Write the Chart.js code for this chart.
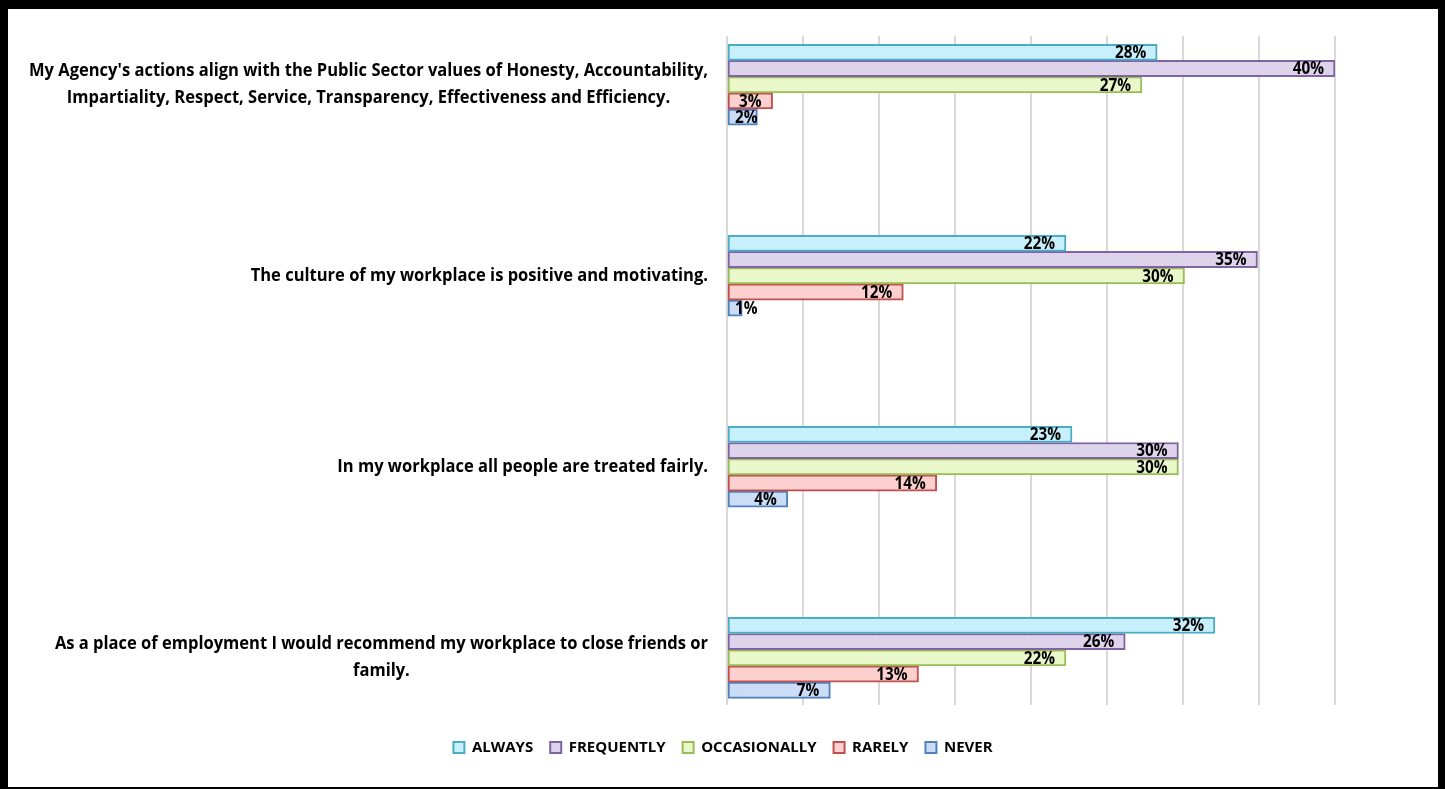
<!DOCTYPE html>
<html>
<head>
<meta charset="utf-8">
<script src="https://cdn.jsdelivr.net/npm/chart.js@4"></script>
<style>
  html, body { margin: 0; padding: 0; background: #fff; }
  #frame {
    box-sizing: border-box;
    width: 1445px; height: 789px;
    border-style: solid; border-color: #000;
    border-width: 9px 7px 2px 8px;
    position: relative;
  }
  #wrap { position: absolute; left: 0; top: 0; width: 1430px; height: 778px; }
</style>
</head>
<body>
<div id="frame"><div id="wrap"><canvas id="chart"></canvas></div></div>
<script>
// categories (multi-line labels)
const categories = [
  ["My Agency's actions align with the Public Sector values of Honesty, Accountability,",
   "Impartiality, Respect, Service, Transparency, Effectiveness and Efficiency."],
  ["The culture of my workplace is positive and motivating."],
  ["In my workplace all people are treated fairly."],
  ["As a place of employment I would recommend my workplace to close friends or", "family."]
];
const seriesNames = ['ALWAYS', 'FREQUENTLY', 'OCCASIONALLY', 'RARELY', 'NEVER'];

// percentages
const always       = [28.3, 22.3, 22.7, 32.1];
const frequently   = [40.0, 34.9, 29.7, 26.2];
const occasionally = [27.3, 30.1, 29.7, 22.3];
const rarely       = [3.0, 11.6, 13.8, 12.6];
const never        = [2.0, 1.0, 4.0, 6.8];

const xTicks = { min: 0, max: 40, step: 5 };
const catIndex = [0, 1, 2, 3];
const yRange = { min: -0.255, max: 3.247 };

const fills   = ['#c8f0fc', '#ddd4ec', '#e9f7cb', '#fbd0cf', '#cbdcf6'];
const borders = ['#4bacc6', '#8064a2', '#9bbb59', '#c0504d', '#4f81bd'];

const FONT = '"Open Sans", "Noto Sans", sans-serif';

const allSeries = [always, frequently, occasionally, rarely, never];
const datasets = allSeries.map((vals, k) => ({
  label: seriesNames[k],
  data: vals.map((v, i) => ({ x: v, y: catIndex[i] })),
  backgroundColor: fills[k],
  borderColor: borders[k],
  borderWidth: 2,
  borderSkipped: false,
  barThickness: 16.2
}));

// category labels: lines centred in their block, block right-aligned at the axis
const categoryLabels = {
  id: 'categoryLabels',
  afterDraw(chart) {
    const ctx = chart.ctx, y = chart.scales.y;
    ctx.save();
    ctx.font = 'bold 18px ' + FONT;
    ctx.fillStyle = '#000';
    ctx.textAlign = 'center';
    ctx.textBaseline = 'middle';
    const widest = Math.max(...categories.flat().map(l => ctx.measureText(l).width));
    const sx = Math.min(1, 679 / widest);
    const right = chart.chartArea.left - 19;
    const lh = 27;
    categories.forEach((lines, i) => {
      const cy = y.getPixelForValue(catIndex[i]);
      const w = Math.max(...lines.map(l => ctx.measureText(l).width)) * sx;
      const cx = right - w / 2;
      lines.forEach((l, j) => {
        ctx.save();
        ctx.translate(cx, cy + (j - (lines.length - 1) / 2) * lh);
        ctx.scale(sx, 1);
        ctx.fillText(l, 0, 0);
        ctx.restore();
      });
    });
    ctx.restore();
  }
};

// value labels at the inside end of each bar
const valueLabels = {
  id: 'valueLabels',
  afterDatasetsDraw(chart) {
    const ctx = chart.ctx;
    ctx.save();
    ctx.font = 'bold 17px ' + FONT;
    ctx.fillStyle = '#000';
    ctx.textAlign = 'right';
    ctx.textBaseline = 'middle';
    const sx = 0.9;
    chart.data.datasets.forEach((ds, k) => {
      chart.getDatasetMeta(k).data.forEach((bar, i) => {
        const txt = Math.round(ds.data[i].x) + '%';
        const w = ctx.measureText(txt).width * sx;
        const xr = Math.max(bar.x - 11, bar.base + w + 7);
        ctx.save();
        ctx.translate(xr, bar.y + 1);
        ctx.scale(sx, 1);
        ctx.fillText(txt, 0, 0);
        ctx.restore();
      });
    });
    ctx.restore();
  }
};

new Chart(document.getElementById('chart'), {
  type: 'bar',
  data: { datasets },
  options: {
    indexAxis: 'y',
    responsive: true,
    maintainAspectRatio: false,
    animation: false,
    layout: { padding: { top: 27, bottom: 22 } },
    scales: {
      x: {
        min: xTicks.min, max: xTicks.max,
        ticks: { display: false, stepSize: xTicks.step },
        grid: { color: '#d9d9d9', lineWidth: 2, drawTicks: false },
        border: { display: false },
        afterFit: s => { s.height = 18; }
      },
      y: {
        type: 'linear',
        reverse: true,
        offset: false,
        bounds: 'data',
        min: yRange.min, max: yRange.max,
        ticks: { display: false },
        grid: { display: false },
        border: { display: false },
        afterBuildTicks: s => {
          s.ticks = catIndex.map(v => ({ value: v }));
          s.min = yRange.min;
          s.max = yRange.max;
        },
        afterFit: s => { s.width = 719; }
      },
      yRight: {
        type: 'linear',
        position: 'right',
        display: true,
        ticks: { display: false },
        grid: { display: false },
        border: { display: false },
        afterFit: s => { s.width = 103; }
      }
    },
    plugins: {
      tooltip: { enabled: false },
      legend: {
        position: 'bottom',
        labels: {
          color: '#000',
          font: { family: FONT, size: 15, weight: 'bold' },
          boxWidth: 11, boxHeight: 11,
          padding: 17
        }
      }
    }
  },
  plugins: [categoryLabels, valueLabels]
});
</script>
</body>
</html>
